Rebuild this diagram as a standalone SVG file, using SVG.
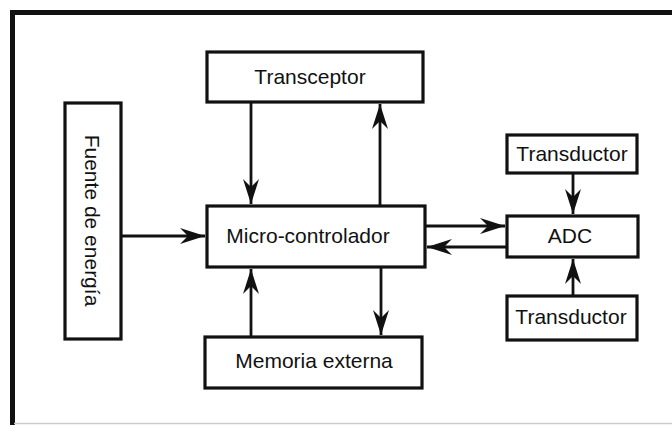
<svg xmlns="http://www.w3.org/2000/svg" width="672" height="425" viewBox="0 0 672 425">
<style>
.box{fill:#fff;stroke:#111;stroke-width:3.2}
.lbl{font-family:"Liberation Sans",Arial,sans-serif;font-size:21px;fill:#111;text-anchor:middle}
.con{stroke:#111;stroke-width:2.8;fill:none}
</style>
<defs>
<marker id="ah" markerUnits="userSpaceOnUse" markerWidth="30" markerHeight="20" viewBox="-26 -10 28 20" refX="0" refY="0" orient="auto">
<path d="M0,0 L-25,-8 L-17,0 L-25,8 Z" fill="#111"/>
</marker>
</defs>
<rect width="672" height="425" fill="#fff"/>
<g id="frame">
<line x1="10" y1="12.5" x2="672" y2="12.5" stroke="#111" stroke-width="5"/>
<line x1="12.5" y1="10" x2="12.5" y2="425" stroke="#111" stroke-width="5"/>
<line x1="14" y1="423.5" x2="672" y2="423.5" stroke="#ccc" stroke-width="1.5"/>
</g>
<g id="connectors">
<line class="con" x1="251" y1="102" x2="251" y2="204" marker-end="url(#ah)"/>
<line class="con" x1="380" y1="206" x2="380" y2="104" marker-end="url(#ah)"/>
<line class="con" x1="121" y1="236" x2="205" y2="236" marker-end="url(#ah)"/>
<line class="con" x1="425" y1="226" x2="505" y2="226" marker-end="url(#ah)"/>
<line class="con" x1="507" y1="247" x2="427" y2="247" marker-end="url(#ah)"/>
<line class="con" x1="251" y1="337" x2="251" y2="269" marker-end="url(#ah)"/>
<line class="con" x1="381" y1="267" x2="381" y2="335" marker-end="url(#ah)"/>
<line class="con" x1="573" y1="173" x2="573" y2="214" marker-end="url(#ah)"/>
<line class="con" x1="573" y1="296" x2="573" y2="259" marker-end="url(#ah)"/>
</g>
<g id="fuente">
<rect class="box" x="65" y="103" width="56" height="236"/>
<text class="lbl" transform="translate(92,220.5) rotate(90)" x="0" y="7.5">Fuente de energía</text>
</g>
<g id="transceptor">
<rect class="box" x="207" y="52" width="216" height="50"/>
<text class="lbl" x="310" y="84">Transceptor</text>
</g>
<g id="microcontrolador">
<rect class="box" x="207" y="206" width="218" height="61"/>
<text class="lbl" x="308" y="243">Micro-controlador</text>
</g>
<g id="memoria">
<rect class="box" x="205" y="337" width="217" height="51"/>
<text class="lbl" x="314" y="368">Memoria externa</text>
</g>
<g id="transductor1">
<rect class="box" x="507" y="135" width="130" height="38"/>
<text class="lbl" x="572" y="161">Transductor</text>
</g>
<g id="adc">
<rect class="box" x="507" y="216" width="131" height="41"/>
<text class="lbl" x="570" y="243">ADC</text>
</g>
<g id="transductor2">
<rect class="box" x="507" y="296" width="130" height="44"/>
<text class="lbl" x="571" y="324">Transductor</text>
</g>
</svg>
